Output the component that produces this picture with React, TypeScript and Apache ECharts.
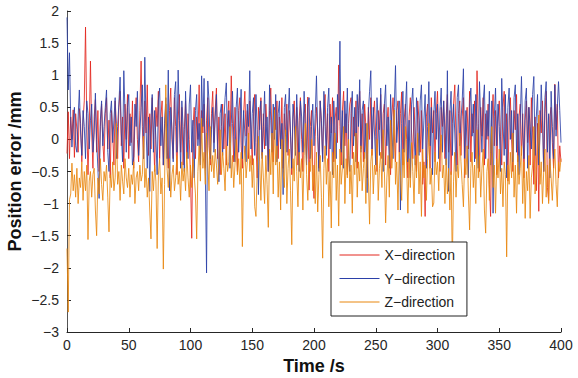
import React, { useEffect, useRef } from "react";
import * as echarts from "echarts";

const xTicks = [0, 50, 100, 150, 200, 250, 300, 350, 400];
const yTicks = [-3, -2.5, -2, -1.5, -1, -0.5, 0, 0.5, 1, 1.5, 2];
const seriesNames = ["X\u2212direction", "Y\u2212direction", "Z\u2212direction"];

// Position error (mm) sampled each second, t = 0..400
const xDir = [
  -0.22, 0.43, -0.3, 0.35, 0.0, 0.46, -0.28, 0.4, 0.15, -0.2,
  0.48, 0.25, -0.35, 0.3, 0.6, 1.75, 0.3, -0.55, 0.15, 1.22,
  0.1, -0.45, 0.35, 0.62, -0.2, 0.45, -0.5, 0.2, 0.55, -0.05,
  -0.35, 0.4, 0.65, -0.15, 0.3, -0.6, 0.45, 0.1, -0.4, 0.6,
  0.25, -0.3, 0.5, 0.75, -0.1, 0.35, -0.45, 0.55, 0.0, 0.7,
  -0.3, 0.4, -0.05, 0.6, -0.45, 0.3, 0.65, 0.0, -0.35, 0.45,
  1.22, 0.2, -0.3, 0.6, 0.1, 0.85, -0.25, 0.4, -0.15, 0.65,
  0.1, -0.5, 0.5, 0.2, 0.75, -0.3, 0.35, 0.6, -0.4, 0.15,
  0.55, -0.1, -0.45, 0.45, 0.8, 0.0, -0.3, 0.65, 0.2, -0.55,
  0.3, 0.7, -0.2, 0.5, -0.4, 0.15, 0.6, -0.3, 0.4, 0.0,
  -0.6, -1.54, 0.2, 0.5, -0.3, 0.35, 0.0, 0.85, -0.25, 0.45,
  0.1, 0.55, -0.45, 0.3, 0.65, -0.1, -0.4, 0.4, 0.75, -0.05,
  0.45, 0.8, -0.3, 0.35, -0.55, 0.2, 0.55, -0.15, 0.4, -0.4,
  0.3, 0.6, -0.05, 0.99, 0.25, -0.35, 0.5, 0.1, -0.5, 0.45,
  0.65, -0.1, -0.45, 0.4, 0.75, 0.05, 0.45, -0.3, 0.6, 0.15,
  -0.4, 0.35, 0.7, -0.05, -0.6, 0.5, 0.15, 0.65, -0.25, 0.4,
  -0.15, 0.55, 0.2, -0.5, 0.45, 0.8, 0.0, -0.35, 0.5, 0.15,
  0.6, -0.3, 0.35, -0.1, 0.65, -0.45, 0.4, 0.05, 0.55, -0.25,
  0.45, 0.1, -0.55, 0.35, 0.6, -0.15, 0.5, -0.4, 0.3, 0.65,
  0.0, -0.5, 0.4, 0.55, -0.3, 0.66, -0.79, 0.2, 0.45, -0.5,
  -0.92, 0.05, 0.5, 0.15, -0.45, 0.6, 0.25, -0.3, 0.45, 0.7,
  -0.15, 0.4, -0.5, 0.55, 0.1, 0.65, -0.35, 0.3, 0.5, -0.05,
  1.16, 0.2, -0.4, 0.45, 0.75, -0.1, 0.4, -0.55, 0.25, 0.55,
  0.65, -0.3, 0.35, 0.05, 0.6, -0.45, 0.45, 0.75, -0.15, 0.4,
  -0.35, 0.55, 0.2, -0.6, 0.5, 0.0, 0.65, -0.25, 0.35, 0.6,
  0.05, -0.5, 0.45, 0.15, 0.7, -0.3, 0.4, 0.55, -0.4, 0.25,
  0.5, -0.1, -0.55, 0.35, 0.65, 0.1, -0.35, 0.45, 0.6, -0.2,
  0.4, 0.74, -0.4, 0.3, 0.55, 0.0, -0.6, 0.35, 0.65, 0.1,
  -0.3, 0.5, 0.05, -0.5, 0.6, 0.3, -0.2, 0.45, -0.7, -0.35,
  -1.2, 0.35, 0.55, -0.05, -0.45, 0.65, 0.1, 0.45, -0.35, 0.4,
  0.75, -0.1, -0.5, 0.5, 0.2, 0.6, -0.3, 0.35, 0.7, -0.2,
  0.45, -0.55, 0.25, 0.55, 0.85, 0.0, -0.4, 0.4, 0.6, -0.25,
  0.35, 0.65, -0.6, 0.3, 0.5, -0.15, 0.75, -0.35, 0.4, 0.1,
  0.6, -0.3, 1.07, 0.25, -0.5, 0.5, 0.05, 0.65, -0.4, 0.4,
  0.0, 0.55, -0.7, -1.2, 0.3, 0.7, -0.1, 0.45, -0.55, 0.35,
  0.6, 0.05, -0.4, 0.5, 0.75, -0.15, 0.4, -0.65, 0.3, 0.65,
  0.0, -0.5, 0.45, 0.15, 0.7, -0.35, 0.35, 0.55, -0.25, 0.4,
  -0.6, 0.3, 0.6, -0.05, 0.5, -0.4, 0.65, 0.1, -0.7, 0.35,
  -0.8, 0.25, -1.12, 0.45, 0.1, 0.6, -0.5, 0.4, 0.75, -0.75,
  -0.95, 0.35, 0.5, -0.05, -0.45, 0.86, 0.15, 0.55, -0.6, -0.1,
  -0.35,
];

const yDir = [
  1.9, 0.77, 1.35, 0.3, -0.12, 0.25, 0.5, -0.1, -0.2, 0.35,
  0.77, 0.1, -0.25, 0.45, 0.2, -0.3, 0.6, 0.4, -0.15, 0.3,
  0.55, -0.2, 0.1, 0.72, 0.0, -0.45, -0.92, 0.3, 0.6, -0.1,
  0.2, 0.5, 0.77, -0.2, -0.5, 0.4, 0.6, -0.05, 0.3, 0.65,
  -0.3, 0.2, 0.55, 0.97, 0.1, -0.35, 1.07, 0.4, -0.2, 0.5,
  0.7, -0.1, 0.35, -0.4, -0.27, 0.55, 0.2, 0.75, -0.25, 0.1,
  0.5, 0.85, -0.3, 1.28, 0.2, -0.45, 0.35, -0.81, 0.3, 0.7,
  -0.2, 0.45, 0.0, -0.55, 0.6, 0.8, -0.1, 0.35, -0.4, 0.25,
  0.65, -0.3, 1.08, -0.8, 0.5, 0.15, -0.35, 0.7, 0.9, -0.2,
  1.08, 0.3, -0.45, 0.6, 0.2, -0.5, 0.75, 0.1, -0.3, 0.55,
  0.85, -0.2, 0.3, -0.6, 0.45, 0.7, -0.1, 0.25, -0.4, 0.99,
  0.2, 0.95, -0.5, -2.08, 0.91, 0.6, -0.3, 0.15, 0.5, -0.2,
  0.35, 0.7, -0.15, -0.66, 0.4, 0.55, -0.25, 0.3, 0.65, 0.88,
  -0.1, 0.45, -0.45, 0.25, 0.75, 0.05, -0.35, 0.5, 0.8, -0.2,
  0.3, 0.78, -0.3, 0.45, 0.1, -0.35, 0.55, 0.2, 1.07, -0.15,
  0.4, 0.65, -0.25, 0.7, 0.15, -0.86, 0.45, 0.6, -0.3, 0.2,
  0.75, -0.1, 0.35, -0.5, 0.85, 0.3, -0.2, 0.55, 0.0, 0.7,
  -0.35, 0.4, 0.6, -0.15, 0.25, -0.86, 0.5, 0.7, -0.2, 0.35,
  0.8, 0.05, -0.45, 0.55, 0.3, -0.25, 0.7, 0.15, -0.5, 0.6,
  0.35, -0.2, 0.75, 0.1, -0.4, 0.5, 0.65, -0.3, 0.2, 0.55,
  -0.1, 0.4, 0.99, 0.05, -0.5, 0.6, 0.3, -0.35, 0.75, 0.2,
  -0.25, 0.5, 0.8, -0.15, 0.35, -0.55, 0.6, 0.15, -0.3, 0.7,
  0.3, 1.53, -0.2, 0.45, -0.45, 0.6, 0.1, 0.8, -0.25, -0.5,
  0.4, 0.75, -0.1, 0.5, -0.35, 0.7, 0.2, 0.93, -0.2, 0.45,
  0.6, -0.3, 0.25, -0.83, 0.4, 0.75, 1.07, -0.15, 0.5, 0.1,
  -0.4, 0.65, 0.3, -0.25, 0.8, 0.0, -0.5, 0.55, 0.85, -0.1,
  0.35, -0.45, 0.7, 0.2, -0.3, 0.5, 1.15, -0.05, 0.3, 0.6,
  -1.1, 0.25, 0.75, -0.2, 0.45, 0.9, -0.35, 0.3, -0.6, 0.55,
  0.8, 0.1, -0.4, 0.65, 0.35, -0.25, 0.6, 0.85, -0.15, 0.3,
  0.7, -0.45, 0.2, 0.9, -0.1, 0.5, -0.55, 0.4, 0.75, 0.0,
  0.55, -0.3, 0.45, 0.8, -0.2, 0.6, 0.15, -0.4, 1.07, -0.81,
  0.4, 0.75, -0.25, 0.55, 0.1, -0.5, 0.65, 0.85, -0.1, 0.3,
  0.6, 1.1, -0.3, 0.45, -0.15, -0.6, 0.5, 0.8, 0.05, 0.55,
  -0.35, 0.7, 0.2, -0.45, 0.9, 0.3, -0.2, 0.6, 0.85, -0.3,
  0.45, 0.05, 0.75, -0.4, 0.6, -1.15, 0.35, 0.8, -0.1, 0.55,
  0.2, -0.5, 0.95, 0.3, -0.25, 0.7, -0.6, 0.5, 0.8, 0.0,
  0.45, -0.35, 0.65, 0.85, -0.2, 0.4, -0.55, 0.3, 0.98, 0.1,
  -0.3, 0.6, 0.8, -0.45, 0.5, 0.2, -0.15, 0.7, 0.98, -0.25,
  0.35, 0.7, -0.4, 0.1, 0.85, 0.3, -0.5, 0.65, 0.9, -0.2,
  0.4, -0.6, 0.75, 0.2, -0.3, 0.85, 0.05, 0.5, 0.9, 0.45,
  -0.05,
];

const zDir = [
  -1.7, -2.69, -0.94, -0.85, -0.37, -0.8, -0.55, -0.9, -0.45, -1.0,
  -0.6, -0.75, -0.35, -0.95, -0.5, -0.8, -0.4, -1.56, -0.65, -0.5,
  -0.9, -0.55, -0.45, -1.1, -1.5, -0.6, -0.85, -0.3, -0.7, -0.95,
  -0.5, -0.65, -0.4, -0.9, -1.44, -0.55, -0.75, -0.35, -0.8, -0.6,
  0.25, -0.7, -0.5, -0.95, -0.4, -0.65, -0.85, -0.3, -0.6, -0.75,
  -0.45, -0.9, -0.55, -0.7, -0.35, -1.0, -0.6, -0.5, -0.8, -0.4,
  -0.65, -0.55, 0.05, -0.75, -0.45, -0.9, -0.6, -1.1, -1.55, -0.5,
  -0.8, -0.4, -0.65, -1.7, -0.55, -0.3, -0.85, -0.6, -2.02, -0.7,
  0.85, -0.45, -0.75, -0.3, -0.9, -0.55, -0.4, -0.8, -0.6, -0.25,
  -0.7, -0.5, -0.95, -0.35, -0.65, -0.45, -0.8, -0.2, -0.6, -0.9,
  -0.4, -0.75, -0.3, -0.55, -0.85, -1.55, -0.5, -0.1, -0.65, 0.33,
  -0.45, -0.2, -0.7, 0.1, -0.35, -0.8, 0.2, -0.5, -0.25, -0.6,
  -0.15, -0.4, -0.7, -0.3, 0.15, -0.55, -0.2, -0.45, -0.8, -0.1,
  -0.5, -0.35, 0.2, -0.6, -0.25, -0.75, -0.4, 0.0, -0.55, -0.3,
  -0.7, -0.2, -1.67, -0.45, -0.1, -0.6, -0.35, 0.1, -0.5, -0.25,
  -0.75, -0.3, -1.05, -1.2, -0.5, 0.05, -0.35, -0.95, -0.2, -0.6,
  -1.0, -0.25, -0.7, -1.37, -0.15, -0.55, 0.1, -0.85, 0.46, -0.4,
  -0.1, -0.9, -0.35, -1.1, 0.0, -0.5, -0.75, 0.15, -1.0, -0.45,
  -0.15, -0.8, -1.64, -0.3, -0.65, 0.2, -0.5, -1.05, -0.2, -0.6,
  -0.3, -1.1, -0.25, 0.25, -0.55, -0.95, -0.35, -0.5, 0.0, -0.8,
  -0.4, -1.0, -0.2, -1.13, -0.55, -0.25, -0.9, -1.85, -0.45, -0.1,
  -0.7, -0.3, -1.05, -0.5, -1.38, -0.2, -0.6, 0.1, -0.95, -0.4,
  -1.35, -0.15, -0.7, -0.45, 0.2, -1.0, -0.3, -0.6, 0.0, -0.85,
  -0.4, -1.15, -0.2, -0.55, 0.1, -0.9, -0.35, -0.65, -0.1, -0.8,
  -0.45, -0.2, -1.0, 0.25, -0.6, -1.32, -0.35, -0.15, -0.85, -0.4,
  -0.55, 0.0, -0.95, -0.45, -0.2, -0.75, 0.15, -0.5, -1.3, -0.6,
  -0.25, -0.9, 0.3, -0.45, -0.1, 0.46, -0.7, -0.35, -1.1, -0.2,
  -0.55, -0.95, -0.15, -0.6, 0.2, -0.4, -1.15, -0.3, -0.75, -0.05,
  -0.5, -1.0, -0.25, -0.6, 0.1, -0.85, -0.35, -1.2, -0.15, -0.6,
  -0.4, -0.95, -0.3, 0.25, -0.7, -0.45, -1.05, -0.99, -0.2, -0.55,
  -0.35, -0.8, -0.15, 0.07, -0.6, -0.4, -1.0, -0.3, -0.85, -0.45,
  -1.1, -0.5, -1.95, -0.65, -0.2, -0.9, -0.4, -0.6, 0.1, -0.35,
  -0.7, -1.05, -0.3, -0.55, -0.1, -0.85, -1.41, -0.45, -0.2, -0.75,
  -0.4, -1.0, 0.15, -0.6, -0.25, -0.9, -0.45, -0.15, -1.1, -1.46,
  -0.5, -0.3, -0.95, -0.2, 0.2, -0.75, -0.4, -1.15, -0.3, -0.6,
  -0.15, -0.85, -0.45, -1.05, -0.35, -0.55, -1.83, -0.4, -0.7, -0.2,
  -0.6, 0.1, -0.9, -0.4, -1.15, -0.25, -0.7, -0.45, -0.1, -1.0,
  -0.35, -1.23, -0.5, -0.8, -0.25, -1.23, -0.6, -0.4, 0.2, -0.85,
  -0.45, -0.2, 0.38, -0.7, -0.35, -1.0, -0.5, -0.15, -0.9, -0.4,
  -1.0, -0.3, -0.6, -0.95, -0.45, -0.15, -0.7, -1.05, -0.35, -0.5,
  -0.3,
];

const colors = ["#e3261e", "#2b40a8", "#e8870e"];
const FONT = "'Liberation Sans', Arial, Helvetica, sans-serif";

const fmt = (v: number) => String(v).replace("-", "\u2212");

export default function App() {
  const ref = useRef<HTMLDivElement>(null);
  useEffect(() => {
    if (!ref.current) return;
    const chart = echarts.init(ref.current, undefined, { renderer: "svg" });
    const all = [xDir, yDir, zDir];
    chart.setOption({
      animation: false,
      backgroundColor: "#ffffff",
      grid: { left: 67, right: 17, top: 11, bottom: 46, containLabel: false, outerBoundsMode: "none" },
      legend: {
        left: 331,
        top: 242,
        orient: "vertical",
        itemWidth: 40,
        itemHeight: 14,
        itemGap: 9.5,
        padding: [6, 12, 7, 8],
        backgroundColor: "#ffffff",
        borderColor: "#222222",
        borderWidth: 1,
        borderRadius: 0,
        itemStyle: { opacity: 0 },
        lineStyle: { width: 1 },
        textStyle: { fontFamily: FONT, fontSize: 14, color: "#222222" },
        data: seriesNames,
      },
      xAxis: {
        type: "value",
        min: xTicks[0],
        max: xTicks[xTicks.length - 1],
        interval: 50,
        name: "Time /s",
        nameLocation: "middle",
        nameGap: 25,
        nameMoveOverlap: false,
        nameTextStyle: { fontFamily: FONT, fontSize: 18, fontWeight: "bold", color: "#111111", verticalAlign: "top" },
        axisLine: { show: true, onZero: false, lineStyle: { color: "#262626", width: 1 } },
        axisTick: { show: true, inside: true, length: 4, lineStyle: { color: "#262626" } },
        axisLabel: { fontFamily: FONT, fontSize: 14, color: "#262626", margin: 6 },
        splitLine: { show: false },
      },
      yAxis: {
        type: "value",
        min: yTicks[0],
        max: yTicks[yTicks.length - 1],
        interval: 0.5,
        name: "Position error /mm",
        nameLocation: "middle",
        nameGap: 43,
        nameMoveOverlap: false,
        nameTextStyle: { fontFamily: FONT, fontSize: 18, fontWeight: "bold", color: "#111111" },
        axisLine: { show: true, onZero: false, lineStyle: { color: "#555555", width: 1 } },
        axisTick: { show: true, inside: true, length: 4, lineStyle: { color: "#262626" } },
        axisLabel: { fontFamily: FONT, fontSize: 14, color: "#262626", margin: 8, formatter: fmt },
        splitLine: { show: false },
      },
      series: all.map((arr, k) => ({
        name: seriesNames[k],
        type: "line",
        data: arr.map((v, i) => [i, v]),
        showSymbol: false,
        symbol: "none",
        lineStyle: { color: colors[k], width: 0.85 },
        itemStyle: { color: colors[k] },
        emphasis: { disabled: true },
      })),
    });
    return () => chart.dispose();
  }, []);
  return (
    <div
      ref={ref}
      style={{ position: "absolute", left: 0, top: 0, width: 578, height: 378 }}
    />
  );
}
